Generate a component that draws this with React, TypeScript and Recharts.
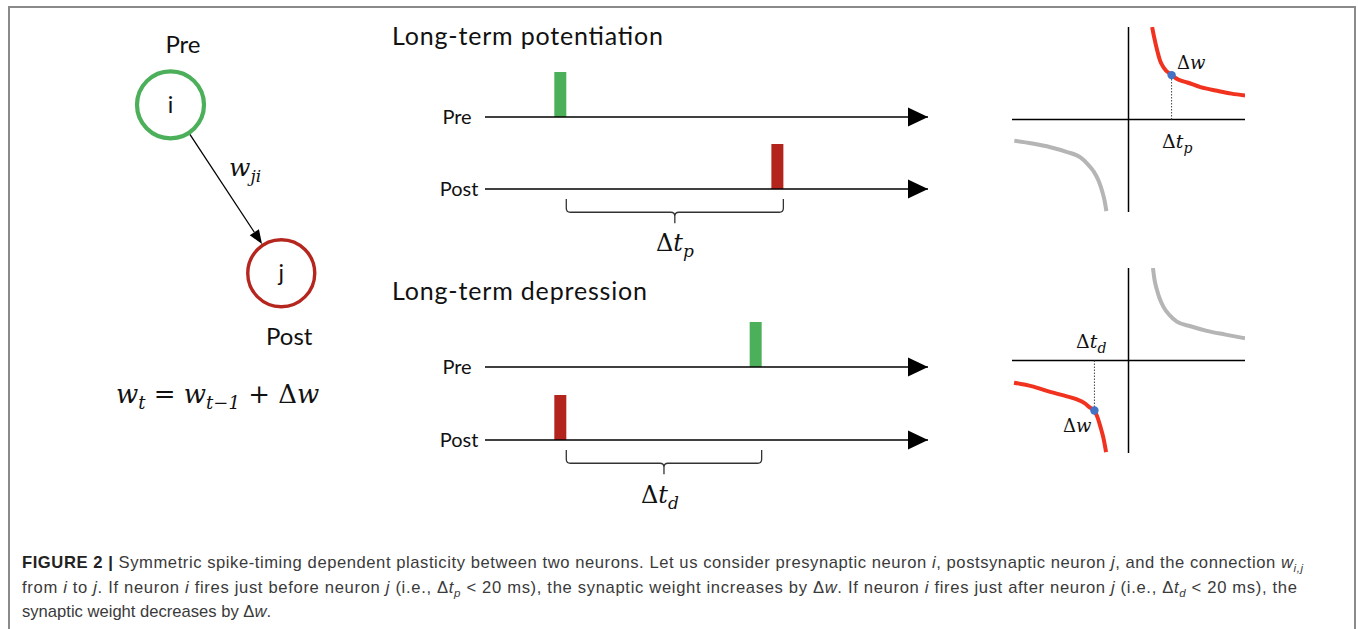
import React from 'react';
import {
  ComposedChart,
  LineChart,
  Line,
  Bar,
  Scatter,
  XAxis,
  YAxis,
  ReferenceLine,
  ReferenceDot,
  ReferenceArea,
} from 'recharts';

// ---------- Network diagram (arbitrary 0..10 layout units) ----------
const nodeNames = ['i', 'j'];
const nodeX = [2.82, 7.25];
const nodeY = [7.88, 3.67];
const nodeColors = ['#4caf5a', '#b5261e'];

// ---------- Spike trains (time, 0..100 units) ----------
const ltpPreSpikeTimes = [17.0];
const ltpPostSpikeTimes = [66.0];
const ltdPreSpikeTimes = [61.1];
const ltdPostSpikeTimes = [17.0];
const spikeHeight = [1];
const preColor = '#4caf5a';
const postColor = '#b3241c';

// ---------- STDP curves (Δt in ms-like units, Δw normalised) ----------
const ltpRedX = [8.1, 8.8, 9.9, 10.8, 12.1, 14.8, 17.2, 20.2, 24.7, 30.5, 35.4, 40];
const ltpRedY = [1.0, 0.89, 0.74, 0.64, 0.56, 0.48, 0.43, 0.4, 0.35, 0.31, 0.28, 0.26];
const ltpGrayX = [-39.2, -33.0, -26.8, -21.3, -16.5, -14.1, -12.0, -10.3, -9.0, -8.2, -7.6];
const ltpGrayY = [-0.23, -0.26, -0.3, -0.35, -0.41, -0.48, -0.56, -0.66, -0.78, -0.88, -0.99];
const ltpDot = { x: 14.8, y: 0.48 };

const ltdGrayX = [8.4, 8.9, 9.8, 10.7, 12.0, 14.1, 16.6, 21.3, 26.9, 33.3, 40];
const ltdGrayY = [1.0, 0.88, 0.76, 0.67, 0.58, 0.49, 0.42, 0.37, 0.32, 0.28, 0.24];
const ltdRedX = [-39.3, -33.0, -26.9, -22.0, -17.7, -15.1, -13.2, -11.7, -10.7, -9.7, -8.6, -7.7];
const ltdRedY = [-0.24, -0.28, -0.34, -0.38, -0.42, -0.46, -0.51, -0.54, -0.61, -0.71, -0.84, -0.99];
const ltdDot = { x: -11.7, y: -0.54 };

const LATO = 'Lato, "Open Sans", sans-serif';
const MATH = '"DejaVu Serif", "Liberation Serif", serif';
const CAP = '"Liberation Sans", Arial, sans-serif';

const zip = (xs: number[], ys: number[]) => xs.map((x, k) => ({ x, y: ys[k] }));
const M0 = { top: 0, right: 0, bottom: 0, left: 0 };

function NodeShape(props: any) {
  const { cx, cy, payload } = props;
  return (
    <g>
      <circle cx={cx} cy={cy} r={33.5} fill="#fff" stroke={payload.color} strokeWidth={payload.name === 'i' ? 4.2 : 3.4} />
      <text x={cx} y={cy + 8} textAnchor="middle" fontFamily={LATO} fontSize={23} fill="#111">
        {payload.name}
      </text>
    </g>
  );
}

function ArrowShape(props: any) {
  const { x1, y1, x2, y2 } = props;
  const dx = x2 - x1;
  const dy = y2 - y1;
  const L = Math.hypot(dx, dy) || 1;
  const ux = dx / L;
  const uy = dy / L;
  const sx = x1 + ux * 35;
  const sy = y1 + uy * 35;
  const ex = x2 - ux * 35;
  const ey = y2 - uy * 35;
  const hl = 14;
  const hw = 5.5;
  const bx = ex - ux * hl;
  const by = ey - uy * hl;
  return (
    <g>
      <line x1={sx} y1={sy} x2={bx} y2={by} stroke="#000" strokeWidth={1.3} />
      <polygon points={`${ex},${ey} ${bx - uy * hw},${by + ux * hw} ${bx + uy * hw},${by - ux * hw}`} fill="#000" />
    </g>
  );
}

function Arrowhead(props: any) {
  const { cx, cy } = props;
  return <polygon points={`${cx},${cy} ${cx - 20},${cy - 9.5} ${cx - 20},${cy + 9.5}`} fill="#000" />;
}

function Brace(props: any) {
  const { x, y, width, height } = props;
  const x1 = x;
  const x2 = x + width;
  const mid = x + width / 2;
  const y0 = y;
  const ym = y + height * 0.55;
  const y2 = y + height;
  const r = 4;
  const d = `M${x1},${y0} L${x1},${ym - r} Q${x1},${ym} ${x1 + r},${ym} L${mid - r},${ym} Q${mid},${ym} ${mid},${ym + r} L${mid},${y2} M${mid},${ym + r} Q${mid},${ym} ${mid + r},${ym} L${x2 - r},${ym} Q${x2},${ym} ${x2},${ym - r} L${x2},${y0}`;
  return <path d={d} fill="none" stroke="#333" strokeWidth={1.3} />;
}

function SpikeRow({
  top,
  times,
  color,
  brace,
}: {
  top: number;
  times: number[];
  color: string;
  brace?: [number, number];
}) {
  const data = times.map((t, k) => ({ t, v: spikeHeight[k] ?? 1 }));
  const half = 1.35;
  return (
    <div style={{ position: 'absolute', left: 485, top: top - 45, width: 443, height: 90 }}>
      <ComposedChart width={443} height={90} data={data} margin={M0}>
        <XAxis type="number" dataKey="t" domain={[0, 100]} hide />
        <YAxis type="number" domain={[-1, 1]} hide />
        <ReferenceLine y={0} stroke="#000" strokeWidth={1.5} />
        <Bar dataKey="v" fill={color} barSize={12} isAnimationActive={false} />
        <ReferenceDot x={100} y={0} r={1} shape={Arrowhead} />
        {brace && (
          <ReferenceArea
            x1={Math.min(brace[0], brace[1]) + half}
            x2={Math.max(brace[0], brace[1]) + half}
            y1={-0.22}
            y2={-0.76}
            shape={Brace}
          />
        )}
      </ComposedChart>
    </div>
  );
}

function StdpPanel({ top, red, gray, dot }: { top: number; red: any[]; gray: any[]; dot: { x: number; y: number } }) {
  return (
    <div style={{ position: 'absolute', left: 1012, top, width: 233, height: 185 }}>
      <LineChart width={233} height={185} margin={M0}>
        <XAxis type="number" dataKey="x" domain={[-40, 40]} hide />
        <YAxis type="number" dataKey="y" domain={[-1, 1]} hide />
        <ReferenceLine x={0} stroke="#000" strokeWidth={1.5} />
        <ReferenceLine y={0} stroke="#000" strokeWidth={1.5} />
        <ReferenceLine
          segment={[
            { x: dot.x, y: 0 },
            { x: dot.x, y: dot.y },
          ]}
          stroke="#444"
          strokeWidth={1}
          strokeDasharray="1.5 1.5"
        />
        <Line data={gray} dataKey="y" type="monotone" stroke="#b5b5b5" strokeWidth={4} dot={false} isAnimationActive={false} />
        <Line data={red} dataKey="y" type="monotone" stroke="#f0321f" strokeWidth={4} dot={false} isAnimationActive={false} />
        <ReferenceDot x={dot.x} y={dot.y} r={4.2} fill="#4472c4" stroke="none" />
      </LineChart>
    </div>
  );
}

type Part = [string, string];
// kinds: 'n' normal, 'i' italic, 's' italic subscript, 'b' bold
function Rich({ parts, subSize, subDy, ...rest }: { parts: Part[]; subSize: number; subDy: number; [k: string]: any }) {
  let shifted = false;
  const children = parts.map(([s, kind], k) => {
    const isSub = kind === 's';
    let dy: number | undefined;
    if (isSub && !shifted) {
      dy = subDy;
      shifted = true;
    } else if (!isSub && shifted) {
      dy = -subDy;
      shifted = false;
    }
    return (
      <tspan
        key={k}
        dy={dy}
        fontSize={isSub ? subSize : undefined}
        fontStyle={kind === 'i' || kind === 's' ? 'italic' : undefined}
        fontWeight={kind === 'b' ? 'bold' : undefined}
        fill={kind === 'b' ? '#222' : undefined}
      >
        {s}
      </tspan>
    );
  });
  return (
    <text style={{ whiteSpace: 'pre' }} {...rest}>
      {children}
    </text>
  );
}

const cap1: Part[] = [
  ['FIGURE 2 | ', 'b'],
  ['Symmetric spike-timing dependent plasticity between two neurons. Let us consider presynaptic neuron ', 'n'],
  ['i', 'i'],
  [', postsynaptic neuron ', 'n'],
  ['j', 'i'],
  [', and the connection ', 'n'],
  ['w', 'i'],
  ['i,j', 's'],
];
const cap2: Part[] = [
  ['from ', 'n'],
  ['i', 'i'],
  [' to ', 'n'],
  ['j', 'i'],
  ['. If neuron ', 'n'],
  ['i', 'i'],
  [' fires just before neuron ', 'n'],
  ['j', 'i'],
  [' (i.e., Δ', 'n'],
  ['t', 'i'],
  ['p', 's'],
  [' < 20 ms), the synaptic weight increases by Δ', 'n'],
  ['w', 'i'],
  ['. If neuron ', 'n'],
  ['i', 'i'],
  [' fires just after neuron ', 'n'],
  ['j', 'i'],
  [' (i.e., Δ', 'n'],
  ['t', 'i'],
  ['d', 's'],
  [' < 20 ms), the', 'n'],
];
const cap3: Part[] = [
  ['synaptic weight decreases by Δ', 'n'],
  ['w', 'i'],
  ['.', 'n'],
];

export default function App() {
  const nodes = nodeNames.map((name, k) => ({ x: nodeX[k], y: nodeY[k], name, color: nodeColors[k] }));
  return (
    <div style={{ position: 'relative', width: 1358, height: 629, overflow: 'hidden', background: '#fff' }}>
      <style>{`html,body{margin:0;padding:0;overflow:hidden;background:#fff}`}</style>
      <div
        style={{
          position: 'absolute',
          left: 8,
          top: 6,
          width: 1344,
          height: 700,
          border: '2px solid #8a8a8a',
        }}
      />

      {/* Network diagram */}
      <div style={{ position: 'absolute', left: 100, top: 20, width: 250, height: 400 }}>
        <ComposedChart width={250} height={400} margin={M0}>
          <XAxis type="number" dataKey="x" domain={[0, 10]} hide />
          <YAxis type="number" dataKey="y" domain={[0, 10]} hide />
          <ReferenceLine
            segment={[
              { x: nodeX[0], y: nodeY[0] },
              { x: nodeX[1], y: nodeY[1] },
            ]}
            shape={ArrowShape}
          />
          <Scatter data={nodes} shape={NodeShape} isAnimationActive={false} />
        </ComposedChart>
      </div>

      {/* Spike trains */}
      <SpikeRow top={116.5} times={ltpPreSpikeTimes} color={preColor} />
      <SpikeRow
        top={188.5}
        times={ltpPostSpikeTimes}
        color={postColor}
        brace={[ltpPreSpikeTimes[0], ltpPostSpikeTimes[0]]}
      />
      <SpikeRow top={367} times={ltdPreSpikeTimes} color={preColor} />
      <SpikeRow
        top={439.5}
        times={ltdPostSpikeTimes}
        color={postColor}
        brace={[ltdPostSpikeTimes[0], ltdPreSpikeTimes[0]]}
      />

      {/* STDP curves */}
      <StdpPanel top={27} red={zip(ltpRedX, ltpRedY)} gray={zip(ltpGrayX, ltpGrayY)} dot={ltpDot} />
      <StdpPanel top={268} red={zip(ltdRedX, ltdRedY)} gray={zip(ltdGrayX, ltdGrayY)} dot={ltdDot} />

      {/* Text layer */}
      <svg style={{ position: 'absolute', left: 0, top: 0 }} width={1358} height={629}>
        <g fontFamily={LATO} fill="#111">
          <text x={183} y={53} textAnchor="middle" fontSize={24}>Pre</text>
          <text x={266} y={345} fontSize={24}>Post</text>
          <text x={392} y={45} fontSize={25} textLength={271} lengthAdjust="spacing">Long-term potentiation</text>
          <text x={392} y={300} fontSize={25} textLength={255} lengthAdjust="spacing">Long-term depression</text>
          <text x={457} y={123.5} textAnchor="middle" fontSize={20}>Pre</text>
          <text x={459} y={195.5} textAnchor="middle" fontSize={20}>Post</text>
          <text x={457} y={374} textAnchor="middle" fontSize={20}>Pre</text>
          <text x={459} y={446.5} textAnchor="middle" fontSize={20}>Post</text>
        </g>
        <g fontFamily={MATH} fill="#111">
          <Rich x={229} y={176} fontSize={25} subSize={17} subDy={6} parts={[['w', 'i'], ['ji', 's']]} />
          <Rich
            x={116}
            y={403}
            fontSize={26}
            subSize={18}
            subDy={6}
            parts={[
              ['w', 'i'],
              ['t', 's'],
              [' = ', 'n'],
              ['w', 'i'],
              ['t\u22121', 's'],
              [' + Δ', 'n'],
              ['w', 'i'],
            ]}
          />
          <Rich x={656} y={251} fontSize={24} subSize={17} subDy={6} parts={[['Δ', 'n'], ['t', 'i'], ['p', 's']]} />
          <Rich x={641} y={503} fontSize={24} subSize={17} subDy={6} parts={[['Δ', 'n'], ['t', 'i'], ['d', 's']]} />
          <Rich x={1177} y={69} fontSize={18} subSize={14} subDy={5} parts={[['Δ', 'n'], ['w', 'i']]} />
          <Rich x={1162} y={148} fontSize={19} subSize={14} subDy={5} parts={[['Δ', 'n'], ['t', 'i'], ['p', 's']]} />
          <Rich x={1076} y={348} fontSize={19} subSize={14} subDy={5} parts={[['Δ', 'n'], ['t', 'i'], ['d', 's']]} />
          <Rich x={1063} y={432} fontSize={18} subSize={14} subDy={5} parts={[['Δ', 'n'], ['w', 'i']]} />
        </g>
        <g fontFamily={CAP} fill="#3a3a3a" fontSize={16.6}>
          <Rich x={22} y={568} subSize={11.5} subDy={4} textLength={1281} lengthAdjust="spacing" parts={cap1} />
          <Rich x={22} y={593} subSize={11.5} subDy={4} textLength={1275} lengthAdjust="spacing" parts={cap2} />
          <Rich x={22} y={617} subSize={11.5} subDy={4} parts={cap3} />
        </g>
      </svg>
    </div>
  );
}
